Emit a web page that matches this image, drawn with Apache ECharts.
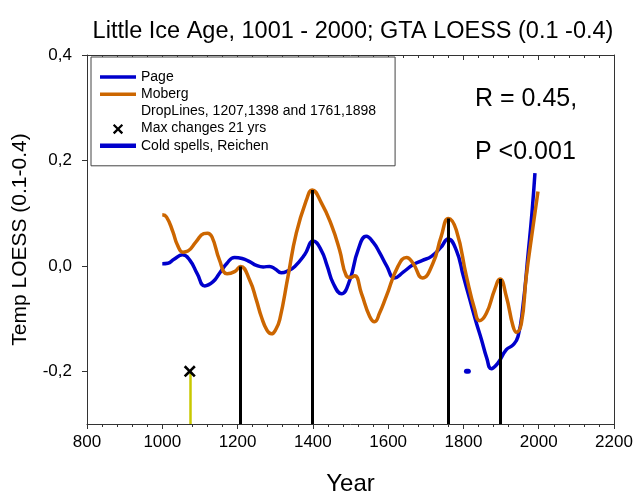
<!DOCTYPE html>
<html>
<head>
<meta charset="utf-8">
<script src="https://cdn.jsdelivr.net/npm/echarts@6/dist/echarts.min.js"></script>
<style>html,body{margin:0;padding:0;background:#fff;}#c{width:637px;height:497px;}</style>
</head>
<body>
<div id="c"></div>
<script>
// ---- data ----
const pageYears = [1000,1015,1030,1054,1073,1093,1113,1135,1152,1172,1192,1212,1232,1250,1268,1285,1300,1316,1335,1352,1378,1401,1422,1438,1454,1476,1498,1520,1542,1560,1578,1596,1617,1640,1666,1690,1715,1740,1759,1781,1800,1817,1833,1848,1862,1874,1892,1914,1932,1945,1958,1972,1982,1990];
const pageTemps = [0.004,0.005,0.012,0.021,0.011,-0.015,-0.038,-0.030,-0.014,0.005,0.016,0.014,0.008,0.001,-0.002,-0.001,-0.006,-0.013,-0.009,-0.001,0.021,0.047,0.030,0.000,-0.033,-0.053,-0.027,0.030,0.056,0.045,0.024,0.000,-0.023,-0.012,0.002,0.010,0.018,0.035,0.051,0.030,-0.020,-0.064,-0.105,-0.140,-0.175,-0.195,-0.184,-0.159,-0.150,-0.134,-0.077,0.024,0.100,0.176];

const mobergYears = [1000,1011,1028,1040,1055,1068,1090,1110,1120,1132,1152,1172,1192,1208,1232,1250,1263,1278,1290,1302,1312,1334,1356,1383,1398,1423,1449,1471,1489,1500,1511,1529,1551,1564,1577,1595,1626,1649,1666,1691,1719,1741,1760,1781,1808,1830,1843,1861,1883,1897,1914,1932,1941,1954,1967,1985,1998];
const mobergTemps = [0.097,0.093,0.065,0.040,0.026,0.028,0.046,0.061,0.062,0.055,0.011,-0.015,-0.011,-0.001,-0.027,-0.065,-0.096,-0.122,-0.129,-0.120,-0.102,-0.020,0.062,0.125,0.144,0.119,0.078,0.030,-0.019,-0.022,-0.019,-0.052,-0.096,-0.106,-0.090,-0.058,-0.001,0.016,0.005,-0.023,0.005,0.056,0.090,0.068,-0.020,-0.083,-0.104,-0.090,-0.045,-0.025,-0.058,-0.115,-0.126,-0.109,-0.020,0.075,0.141];

const dropYears = [1207,1398,1761,1898];
const dropTops  = [-0.001,0.144,0.090,-0.025];
const dropBase  = -0.3;

const maxChangeYear = [1073];
const maxChangeTemp = [-0.2];

const coldYears = [1808,1813];
const coldTemps = [-0.2,-0.2];

const xTicks = [800,1000,1200,1400,1600,1800,2000,2200];
const yTicks = [-0.2,0.0,0.2,0.4];

const names = ['Page','Moberg','DropLines, 1207,1398 and 1761,1898','Max changes 21 yrs','Cold spells, Reichen'];
const titleText = 'Little Ice Age, 1001 - 2000; GTA LOESS (0.1 -0.4)';
const statR = 'R = 0.45,';
const statP = 'P <0.001';

// ---- build ----
const zip = (a,b) => a.map((v,i)=>[v,b[i]]);
const FONT = 'Liberation Sans, Arial, sans-serif';
const BLUE = '#0000CC', ORANGE = '#CC6600';
const X_BODY = 'M12.5,4.2L14.2,2.5L18,6.3L21.8,2.5L23.5,4.2L19.7,8L23.5,11.8L21.8,13.5L18,9.7L14.2,13.5L12.5,11.8L16.3,8Z';
const X_PATH = 'path://' + X_BODY;
const X_LEGEND = 'path://M0,0L0.01,0L0,0.01ZM36,15L35.99,15L36,14.99Z' + X_BODY;

const chart = echarts.init(document.getElementById('c'), null, {renderer:'canvas'});
const fmt = v => (Math.abs(v) < 1e-9 ? 0 : v).toFixed(1).replace('.', ',');

chart.setOption({
  animation: false,
  backgroundColor: '#fff',
  title: {
    text: titleText, left: 348, top: 15, textAlign: 'center',
    textStyle: {fontFamily: FONT, fontSize: 23.5, fontWeight: 'normal', color: '#000'}
  },
  grid: {left: 87, right: 23, top: 55, bottom: 73, containLabel: false, outerBoundsMode: 'none'},
  legend: {
    orient: 'vertical', left: 91, top: 57,
    padding: [13, 19, 13, 9],
    itemWidth: 36, itemHeight: 14, itemGap: 3.2,
    borderColor: '#444', borderWidth: 1, backgroundColor: '#fff',
    selectedMode: false,
    itemStyle: {borderWidth: 0},
    textStyle: {fontFamily: FONT, fontSize: 14, color: '#000', lineHeight: 14},
    data: [
      {name: names[0], icon: 'path://M0,0H36V3.5H0Z', itemStyle: {color: BLUE}},
      {name: names[1], icon: 'path://M0,0H36V3.5H0Z', itemStyle: {color: ORANGE}},
      {name: names[2], icon: 'path://M0,0H36V3H0Z', itemStyle: {opacity: 0}},
      {name: names[3], icon: X_LEGEND, itemStyle: {color: '#000'}},
      {name: names[4], icon: 'path://M0,0H36V4.5H0Z', itemStyle: {color: BLUE}}
    ]
  },
  xAxis: [{
    type: 'value', min: xTicks[0], max: xTicks[xTicks.length-1], interval: 200,
    name: 'Year', nameLocation: 'middle', nameGap: 48,
    nameTextStyle: {fontFamily: FONT, fontSize: 24, color: '#000'},
    axisLine: {show: true, onZero: false, lineStyle: {color: '#333', width: 1}},
    axisTick: {show: true, inside: false, length: 5, lineStyle: {color: '#333'}},
    minorTick: {show: true, splitNumber: 5, length: 3, lineStyle: {color: '#333'}},
    splitLine: {show: false},
    axisLabel: {fontFamily: FONT, fontSize: 17, color: '#000', margin: 10, formatter: v => String(v)}
  }, {
    type: 'value', position: 'top', min: xTicks[0], max: xTicks[xTicks.length-1], interval: 200,
    axisLine: {show: true, onZero: false, lineStyle: {color: '#333', width: 1}},
    axisTick: {show: true, inside: true, length: 5, lineStyle: {color: '#333'}},
    minorTick: {show: true, splitNumber: 5, length: 3, lineStyle: {color: '#333'}},
    splitLine: {show: false}, axisLabel: {show: false}
  }],
  yAxis: [{
    type: 'value', min: -0.3, max: 0.4,
    name: 'Temp LOESS (0.1-0.4)', nameLocation: 'middle', nameGap: 56, nameRotate: 90,
    nameTextStyle: {fontFamily: FONT, fontSize: 21, color: '#000'},
    axisLine: {show: true, onZero: false, lineStyle: {color: '#333', width: 1}},
    axisTick: {show: true, inside: false, length: 5, customValues: yTicks, lineStyle: {color: '#333'}},
    splitLine: {show: false},
    axisLabel: {fontFamily: FONT, fontSize: 17, color: '#000', margin: 15, customValues: yTicks, formatter: fmt}
  }, {
    type: 'value', position: 'right', min: -0.3, max: 0.4,
    axisLine: {show: true, onZero: false, lineStyle: {color: '#333', width: 1}},
    axisTick: {show: false}, splitLine: {show: false}, axisLabel: {show: false}
  }],
  graphic: [
    {type: 'text', left: 475, top: 87, style: {text: statR, fontFamily: FONT, fontSize: 25, fill: '#000'}},
    {type: 'text', left: 475, top: 140, style: {text: statP, fontFamily: FONT, fontSize: 25, fill: '#000'}}
  ],
  series: [
    {
      name: names[0], type: 'line', smooth: 0.5, showSymbol: false, z: 3,
      data: zip(pageYears, pageTemps),
      itemStyle: {color: BLUE}, lineStyle: {color: BLUE, width: 3.5}
    },
    {
      name: names[1], type: 'line', smooth: 0.5, showSymbol: false, z: 3,
      data: zip(mobergYears, mobergTemps),
      itemStyle: {color: ORANGE}, lineStyle: {color: ORANGE, width: 3.5}
    },
    {
      name: names[2], type: 'lines', coordinateSystem: 'cartesian2d', z: 4,
      data: dropYears.map((y,i)=>({coords: [[y, dropBase], [y, dropTops[i]]]})),
      lineStyle: {color: '#000', width: 3, opacity: 1}, itemStyle: {color: '#000'}
    },
    {
      name: 'yellow', type: 'lines', coordinateSystem: 'cartesian2d', z: 4,
      data: maxChangeYear.map((y,i)=>({coords: [[y, dropBase], [y, maxChangeTemp[i]]]})),
      lineStyle: {color: '#C8C800', width: 2.5, opacity: 1}
    },
    {
      name: names[3], type: 'scatter', z: 5,
      symbol: X_PATH, symbolSize: 12,
      data: zip(maxChangeYear, maxChangeTemp),
      itemStyle: {color: '#000', opacity: 1}
    },
    {
      name: names[4], type: 'line', showSymbol: false, z: 3,
      data: zip(coldYears, coldTemps),
      itemStyle: {color: BLUE}, lineStyle: {color: BLUE, width: 5, cap: 'round'}
    }
  ]
});
</script>
</body>
</html>
